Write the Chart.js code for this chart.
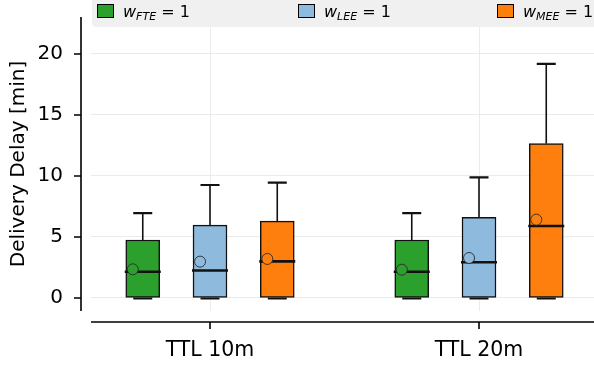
<!DOCTYPE html>
<html>
<head>
<meta charset="utf-8">
<script src="https://cdn.jsdelivr.net/npm/chart.js@4.4.1/dist/chart.umd.min.js"></script>
<style>
  html, body { margin: 0; padding: 0; background: #fff; }
  #wrap { position: relative; width: 594px; height: 366px; }
  #legend {
    position: absolute; left: 92px; top: 0; width: 502px; height: 27px;
    background: #f0f0f0; border-radius: 0 0 0 4px;
    font-family: "DejaVu Sans", sans-serif; font-size: 16px; color: #000;
  }
  .item { position: absolute; top: 0; height: 27px; }
  .swatch { position: absolute; top: 4px; width: 15px; height: 12px; border: 1.2px solid #000; }
  .lbl { position: absolute; top: 3px; white-space: nowrap; line-height: 18px; }
  .lbl sub { font-size: 11px; font-style: italic; vertical-align: -3px; }
</style>
</head>
<body>
<div id="wrap">
  <canvas id="c" width="594" height="366"></canvas>
  <div id="legend"></div>
</div>
<script>
// Data
const categories = ["TTL 10m", "TTL 20m"];
const seriesNames = ["FTE", "LEE", "MEE"];
const seriesColors = ["#2ca02c", "#8ebade", "#ff7f0e"];

// per series: one value per category
const whiskerLow = [[0, 0], [0, 0], [0, 0]];
const q1 = [[0, 0], [0, 0], [0, 0]];
const medians = [[2.15, 2.15], [2.25, 2.93], [3.0, 5.9]];
const q3 = [[4.75, 4.75], [5.97, 6.62], [6.3, 12.65]];
const whiskerHigh = [[6.95, 6.95], [9.26, 9.89], [9.45, 19.18]];
const means = [[2.35, 2.32], [2.98, 3.28], [3.2, 6.42]];

const yTicks = [0, 5, 10, 15, 20];

// Layout
const seriesOffset = [-0.25, 0, 0.25];
const meanShift = -0.037;
const boxWidth = 34;

// Legend (html so the subscripts stay real text)
const legendX = [5, 206, 405];
const legend = document.getElementById("legend");
seriesNames.forEach((name, i) => {
    const item = document.createElement("div");
    item.className = "item";
    item.style.left = legendX[i] + "px";
    item.innerHTML = `<div class="swatch" style="left:0;background:${seriesColors[i]}"></div>` +
        `<div class="lbl" style="left:26px"><i>w</i><sub>${name}</sub> = 1</div>`;
    legend.appendChild(item);
});

const datasets = [];
seriesNames.forEach((name, s) => {
    datasets.push({
        type: "bar",
        label: name,
        data: categories.map((c, i) => ({ x: i + seriesOffset[s], y: [q1[s][i], q3[s][i]] })),
        backgroundColor: seriesColors[s],
        borderColor: "#111",
        borderWidth: 1.5,
        borderSkipped: false,
        barThickness: boxWidth,
        grouped: false,
        order: 2,
        box: s,
    });
});
seriesNames.forEach((name, s) => {
    datasets.push({
        type: "scatter",
        label: name + " mean",
        data: categories.map((c, i) => ({ x: i + seriesOffset[s] + meanShift, y: means[s][i] })),
        backgroundColor: seriesColors[s],
        borderColor: "#2a2a2a",
        borderWidth: 0.9,
        pointRadius: 5.5,
        order: 1,
    });
});

// whiskers, caps and medians for each box dataset
const boxExtras = {
    id: "boxExtras",
    afterDatasetDraw(chart, args) {
        const ds = chart.data.datasets[args.index];
        if (ds.box === undefined) return;
        const s = ds.box;
        const y = chart.scales.y;
        const ctx = chart.ctx;
        ctx.save();
        args.meta.data.forEach((bar, i) => {
            const cx = bar.x;
            const half = boxWidth / 2;
            ctx.strokeStyle = "#111";
            ctx.lineWidth = 1.6;
            ctx.beginPath();
            ctx.moveTo(cx, y.getPixelForValue(q3[s][i]));
            ctx.lineTo(cx, y.getPixelForValue(whiskerHigh[s][i]));
            ctx.moveTo(cx, y.getPixelForValue(q1[s][i]));
            ctx.lineTo(cx, y.getPixelForValue(whiskerLow[s][i]));
            ctx.stroke();
            ctx.lineWidth = 2.2;
            ctx.beginPath();
            const hy = y.getPixelForValue(whiskerHigh[s][i]);
            ctx.moveTo(cx - half / 2 - 1, hy);
            ctx.lineTo(cx + half / 2 + 1, hy);
            const ly = y.getPixelForValue(whiskerLow[s][i]);
            ctx.moveTo(cx - half / 2 - 1, ly + 0.5);
            ctx.lineTo(cx + half / 2 + 1, ly + 0.5);
            ctx.stroke();
            ctx.lineWidth = 2.6;
            ctx.beginPath();
            const my = y.getPixelForValue(medians[s][i]);
            ctx.moveTo(cx - half - 1, my);
            ctx.lineTo(cx + half + 1, my);
            ctx.stroke();
        });
        ctx.restore();
    }
};

// offset spines like the original
const spines = {
    id: "spines",
    afterDraw(chart) {
        const { ctx, chartArea, scales } = chart;
        ctx.save();
        ctx.strokeStyle = "#000";
        ctx.lineWidth = 1.6;
        const sx = chartArea.left - 10;
        const sy = chartArea.bottom + 11;
        ctx.beginPath();
        ctx.moveTo(sx, chartArea.top);
        ctx.lineTo(sx, chartArea.bottom);
        yTicks.forEach(v => {
            const p = scales.y.getPixelForValue(v);
            ctx.moveTo(sx - 7, p);
            ctx.lineTo(sx, p);
        });
        ctx.moveTo(chartArea.left, sy);
        ctx.lineTo(chartArea.right, sy);
        categories.forEach((c, i) => {
            const p = scales.x.getPixelForValue(i);
            ctx.moveTo(p, sy);
            ctx.lineTo(p, sy + 7);
        });
        ctx.stroke();
        ctx.restore();
    }
};

new Chart("c", {
    type: "bar",
    data: { datasets },
    options: {
        responsive: false,
        animation: false,
        layout: { padding: { top: 17, left: 0, right: 0, bottom: 0 }, autoPadding: false },
        plugins: { legend: { display: false }, tooltip: { enabled: false } },
        scales: {
            x: {
                type: "linear",
                min: -0.4424,
                max: 1.4275,
                offset: false,
                border: { display: false },
                grid: { color: "#ebebeb", lineWidth: 1, drawTicks: false, offset: false },
                afterFit: scale => {
                    scale.height = 55;
                    scale.paddingLeft = 0;
                    scale.paddingRight = 0;
                },
                afterBuildTicks: scale => { scale.ticks = categories.map((c, i) => ({ value: i })); },
                ticks: {
                    padding: 27,
                    color: "#000",
                    font: { family: "DejaVu Sans", size: 20.5 },
                    callback: v => categories[v],
                },
            },
            y: {
                type: "linear",
                min: -1.066,
                max: 23.03,
                border: { display: false },
                grid: { color: "#ebebeb", lineWidth: 1, drawTicks: false },
                afterFit: scale => {
                    scale.width = 91;
                    scale.paddingTop = 0;
                    scale.paddingBottom = 0;
                },
                afterBuildTicks: scale => { scale.ticks = yTicks.map(v => ({ value: v })); },
                ticks: {
                    padding: 28,
                    color: "#000",
                    font: { family: "DejaVu Sans", size: 20 },
                },
                title: {
                    display: true,
                    text: "Delivery Delay [min]",
                    color: "#000",
                    font: { family: "DejaVu Sans", size: 20 },
                    padding: { top: 6.5, bottom: 0 },
                },
            },
        },
    },
    plugins: [boxExtras, spines],
});
</script>
</body>
</html>
